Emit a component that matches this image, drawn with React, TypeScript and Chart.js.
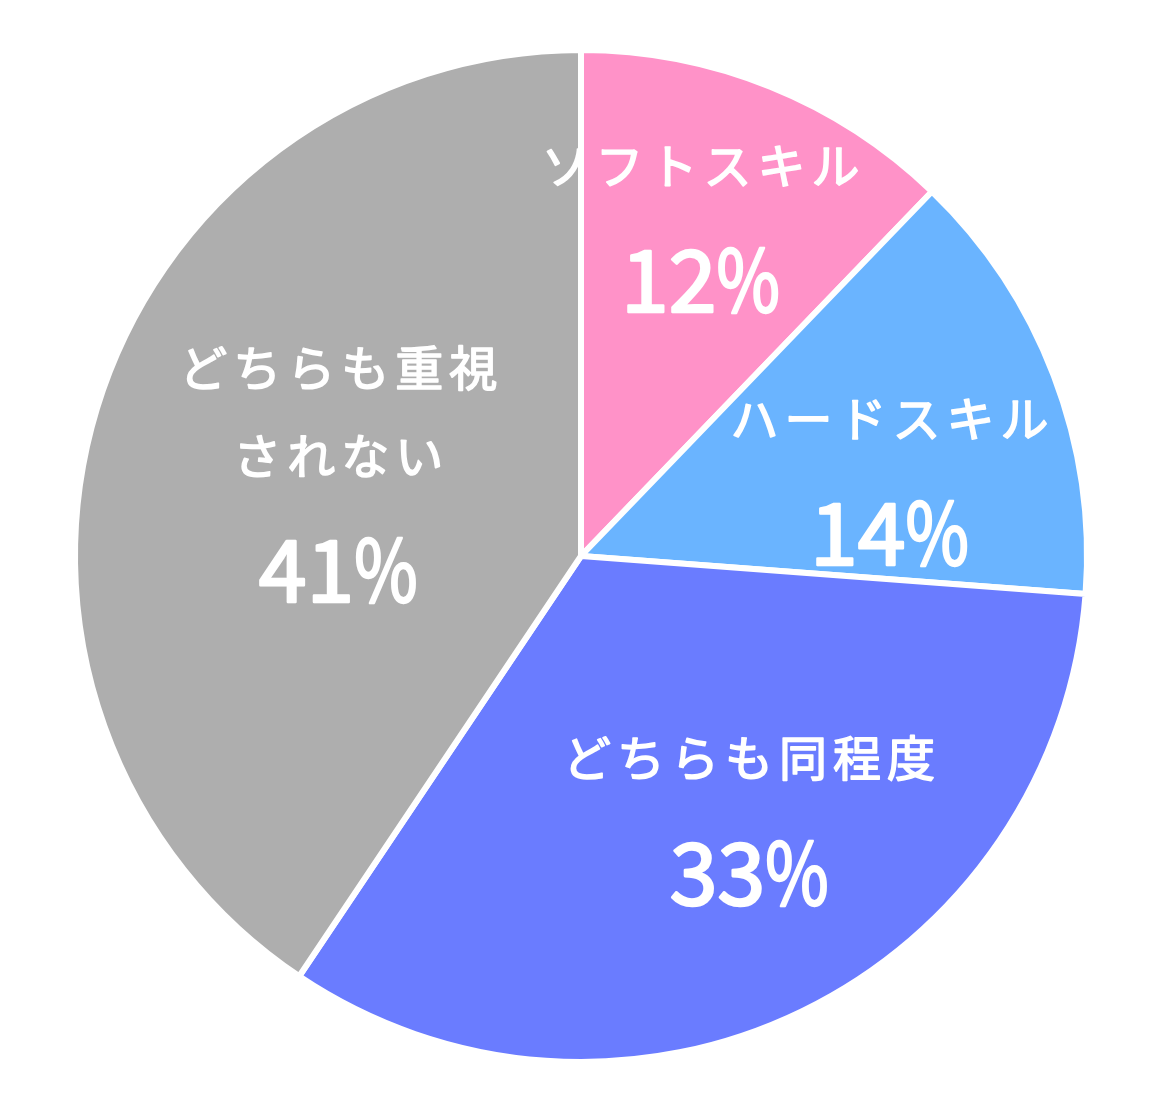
import React, { useEffect, useRef } from "react";
import { Chart, registerables } from "chart.js";

Chart.register(...registerables);

const categories = ["ソフトスキル", "ハードスキル", "どちらも同程度", "どちらも重視されない"];
const labelLines = [["ソフトスキル"], ["ハードスキル"], ["どちらも同程度"], ["どちらも重視", "されない"]];
const values = [12.2, 14.0, 33.2, 40.6];
const colors = ["#FF92C8", "#6AB4FF", "#6A7CFF", "#AEAEAE"];

// label group placement: radial fraction and angle (deg, clockwise from top)
const labelRadial = [0.70, 0.63, 0.61, 0.51];
const labelAngle = [19.7, 75.4, 147, 289.8];

const FONT = '"Noto Sans CJK JP", "Noto Sans", sans-serif';

function drawThick(ctx: any, text: string, x: number, y: number, lw: number) {
  ctx.fillText(text, x, y);
  ctx.lineWidth = lw;
  ctx.lineJoin = "round";
  ctx.strokeText(text, x, y);
}

const labelPlugin = {
  id: "sliceLabels",
  afterDatasetsDraw(chart: any) {
    const ctx = chart.ctx;
    const meta = chart.getDatasetMeta(0);
    const arc = meta.data[0];
    if (!arc) return;
    const cx = arc.x;
    const cy = arc.y;
    const r = arc.outerRadius;
    ctx.save();
    ctx.fillStyle = "#ffffff";
    ctx.strokeStyle = "#ffffff";
    ctx.textBaseline = "middle";
    const total = values.reduce((a, b) => a + b, 0);
    labelLines.forEach((lines, i) => {
      const a = (labelAngle[i] * Math.PI) / 180;
      const gx = cx + Math.sin(a) * r * labelRadial[i];
      const gy = cy - Math.cos(a) * r * labelRadial[i];
      const lineGap = 88;
      const pctGap = 114;
      const totalH = (lines.length - 1) * lineGap + pctGap;
      let y = gy - totalH / 2;
      ctx.textAlign = "center";
      ctx.font = `400 48px ${FONT}`;
      try { (ctx as any).letterSpacing = "6px"; } catch (e) {}
      lines.forEach((t, k) => {
        drawThick(ctx, t, gx + 3, y + k * lineGap, 1.6);
      });
      y += (lines.length - 1) * lineGap + pctGap;
      try { (ctx as any).letterSpacing = "0px"; } catch (e) {}
      ctx.font = `400 86px ${FONT}`;
      ctx.textAlign = "left";
      const num = String(Math.round((values[i] / total) * 100));
      const sx = 0.8;
      const wn = ctx.measureText(num).width;
      const wp = ctx.measureText("%").width * sx;
      const x0 = gx - (wn + wp) / 2;
      drawThick(ctx, num, x0, y, 2.6);
      ctx.save();
      ctx.translate(x0 + wn, y);
      ctx.scale(sx, 1);
      drawThick(ctx, "%", 0, 0, 2.6);
      ctx.restore();
    });
    ctx.restore();
  },
};

export default function App() {
  const ref = useRef<HTMLCanvasElement | null>(null);
  useEffect(() => {
    if (!ref.current) return;
    const chart = new Chart(ref.current, {
      type: "pie",
      data: {
        labels: categories,
        datasets: [
          {
            data: values,
            backgroundColor: colors,
            borderColor: "#ffffff",
            borderWidth: 6,
          },
        ],
      },
      options: {
        responsive: false,
        animation: false,
        devicePixelRatio: 1,
        layout: { padding: { top: 47, bottom: 48, left: 0, right: 0 } },
        plugins: {
          legend: { display: false },
          tooltip: { enabled: false },
        },
      },
      plugins: [labelPlugin],
    });
    return () => chart.destroy();
  }, []);
  return (
    <div style={{ position: "fixed", left: 0, top: 0, width: 1162, height: 1113, background: "#ffffff" }}>
      <canvas ref={ref} width={1162} height={1113} style={{ display: "block" }} />
    </div>
  );
}
